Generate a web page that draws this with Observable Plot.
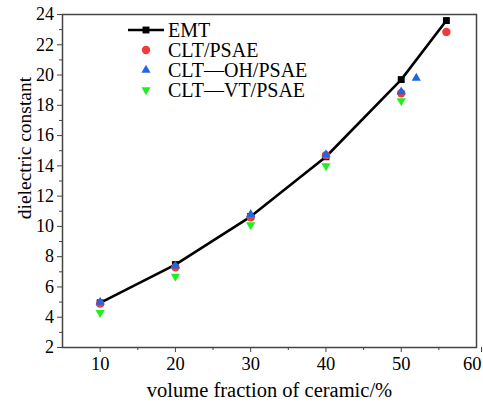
<!DOCTYPE html>
<html>
<head>
<meta charset="utf-8">
<script src="https://cdn.jsdelivr.net/npm/d3@7"></script>
<script src="https://cdn.jsdelivr.net/npm/@observablehq/plot@0.6"></script>
<style>
  body { margin: 0; background: #fff; }
  #chart svg, #chart svg text { font-family: "Liberation Serif", "DejaVu Serif", serif !important; }
</style>
</head>
<body>
<div id="chart"></div>
<script>
// Volume fraction of ceramic (%) and dielectric constant for each series
const emtX = [10, 20, 30, 40, 50, 56];
const emtY = [4.95, 7.48, 10.65, 14.6, 19.7, 23.6];
const cltX = [10, 20, 30, 40, 50, 56];
const cltY = [4.9, 7.3, 10.6, 14.7, 18.8, 22.85];
const ohX = [10, 20, 30, 40, 50, 52];
const ohY = [5.0, 7.4, 10.8, 14.75, 18.9, 19.8];
const vtX = [10, 20, 30, 40, 50];
const vtY = [4.3, 6.7, 10.1, 14.0, 18.3];

const seriesNames = ["EMT", "CLT/PSAE", "CLT\u2014OH/PSAE", "CLT\u2014VT/PSAE"];
const xTicks = [10, 20, 30, 40, 50];
const xLastTick = [60];
const xMinor = [15, 25, 35, 45, 55];
const yTicks = [2, 4, 6, 8, 10, 12, 14, 16, 18, 20, 22, 24];
const yMinor = [3, 5, 7, 9, 11, 13, 15, 17, 19, 21, 23];

const zip = (xs, ys) => xs.map((x, i) => ({x, y: ys[i]}));
const emt = zip(emtX, emtY);
const clt = zip(cltX, cltY);
const oh = zip(ohX, ohY);
const vt = zip(vtX, vtY);

const RED = "#ef3b3b", BLUE = "#1f66e5", GREEN = "#1ef01e";
const SERIF = "Liberation Serif";

// downward-pointing triangle (mirror of d3.symbolTriangle)
const sqrt3 = Math.sqrt(3);
const triangleDown = {
  draw(ctx, size) {
    const y = -Math.sqrt(size / (sqrt3 * 3));
    ctx.moveTo(0, -y * 2);
    ctx.lineTo(-sqrt3 * y, y);
    ctx.lineTo(sqrt3 * y, y);
    ctx.closePath();
  }
};
// short horizontal stroke for the line entry of the key
const keyLine = {
  draw(ctx) { ctx.moveTo(-18, 0); ctx.lineTo(18, 0); }
};

// key entries: symbol + style per series
const keyStyles = [
  {symbol: "square", fill: "black", r: 3.9},
  {symbol: "circle", fill: RED, r: 4.2},
  {symbol: "triangle", fill: BLUE, r: 3.4},
  {symbol: triangleDown, fill: GREEN, r: 3.4}
];
const keyMarks = seriesNames.flatMap((name, i) => {
  const dy = 15.5 + 20 * i;
  const marks = [];
  if (i === 0) {
    marks.push(Plot.dot([name], {frameAnchor: "top-left", dx: 83.5, dy, symbol: keyLine, stroke: "black", strokeWidth: 2.6, fill: "none", r: 1}));
  }
  const s = keyStyles[i];
  marks.push(Plot.dot([name], {frameAnchor: "top-left", dx: 83.5, dy, symbol: s.symbol, fill: s.fill, stroke: "none", r: s.r}));
  marks.push(Plot.text([name], {frameAnchor: "top-left", dx: 105.5, dy: dy + 0.5, text: d => d, textAnchor: "start", lineAnchor: "middle", fontSize: 20, fontFamily: SERIF, fill: "black"}));
  return marks;
});

const chart = Plot.plot({
  width: 483,
  height: 402,
  marginLeft: 62,
  marginRight: 7,
  marginTop: 14,
  marginBottom: 55,
  style: {fontSize: "17px", background: "white", color: "black"},
  x: {domain: [5, 60]},
  y: {domain: [2, 24]},
  marks: [
    Plot.axisX({ticks: xTicks, tickSize: 5, tickPadding: 4, label: null, stroke: "#444", fontSize: 18.5, fontFamily: SERIF}),
    Plot.axisX({ticks: xLastTick, tickSize: 5, tickPadding: 4, label: null, stroke: "#444", fontSize: 18.5, fontFamily: SERIF, textAnchor: "end", dx: 5}),
    Plot.axisX({ticks: xMinor, tickSize: 3, tickFormat: () => "", label: null, stroke: "#444"}),
    Plot.axisY({ticks: yTicks, tickSize: 5, tickPadding: 3.5, label: null, stroke: "#444", fontSize: 18, fontFamily: SERIF}),
    Plot.axisY({ticks: yMinor, tickSize: 3, tickFormat: () => "", label: null, stroke: "#444"}),
    Plot.frame({stroke: "#444", strokeWidth: 1.5}),
    Plot.text(["volume fraction of ceramic/%"], {frameAnchor: "bottom", dy: 43, textAnchor: "middle", lineAnchor: "middle", fontSize: 20.5, fontFamily: SERIF, fill: "black"}),
    Plot.text(["dielectric constant"], {frameAnchor: "left", dx: -38, dy: -33, rotate: -90, textAnchor: "middle", lineAnchor: "middle", fontSize: 19.5, fontFamily: SERIF, fill: "black"}),
    Plot.line(emt, {x: "x", y: "y", stroke: "black", strokeWidth: 2.6}),
    Plot.dot(emt, {x: "x", y: "y", symbol: "square", fill: "black", r: 3.9}),
    Plot.dot(clt, {x: "x", y: "y", symbol: "circle", fill: RED, r: 4.2}),
    Plot.dot(oh, {x: "x", y: "y", symbol: "triangle", fill: BLUE, r: 3.4}),
    Plot.dot(vt, {x: "x", y: "y", symbol: triangleDown, fill: GREEN, r: 3.4}),
    ...keyMarks
  ]
});
document.getElementById("chart").append(chart);
</script>
</body>
</html>
